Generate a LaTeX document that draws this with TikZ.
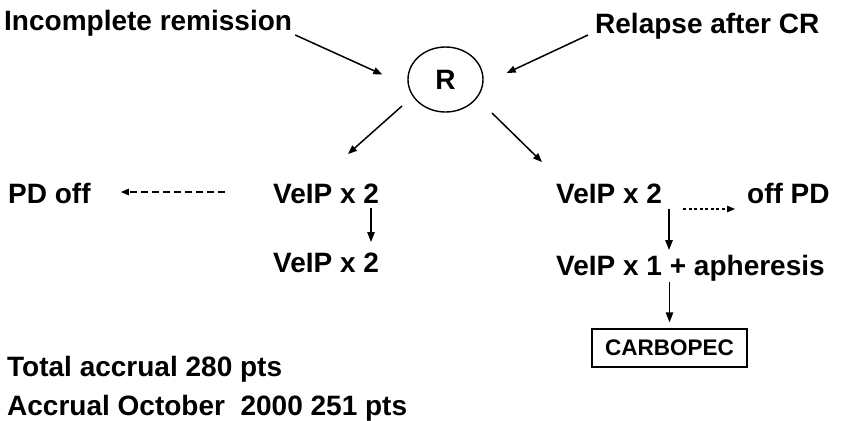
\documentclass[tikz,border=0pt]{standalone}
\usepackage{fontspec}
\setmainfont{Liberation Sans}
\usetikzlibrary{shapes.geometric,arrows.meta}
\begin{document}
\begin{tikzpicture}[x=1bp,y=-1bp,
  txt/.style={font=\fontsize{28bp}{34bp}\selectfont\bfseries, inner sep=0pt, anchor=base west},
  arr/.style={line width=1.5bp, -{Triangle[length=9bp,width=7bp]}},
  varr/.style={line width=1.3bp, -{Triangle[length=10bp,width=7.5bp]}},
  dasharr/.style={line width=1.2bp, dash pattern=on 7bp off 4bp, -{Triangle[length=8bp,width=6.5bp]}},
  dotarr/.style={line width=1.2bp, dash pattern=on 3bp off 2.5bp, -{Triangle[length=8bp,width=6.5bp]}},
  rnode/.style={draw, ellipse, line width=1.4bp, minimum width=75bp, minimum height=65bp, inner sep=0pt,
    font=\fontsize{28bp}{34bp}\selectfont\bfseries},
  boxnode/.style={draw, line width=1.3bp, minimum width=155bp, minimum height=38bp, inner sep=0pt,
    font=\fontsize{22.5bp}{27bp}\selectfont\bfseries}
]
\useasboundingbox (0,0) rectangle (848,420);

\node[txt] (inc) at (4,30) {Incomplete remission};
\node[txt] (rel) at (595,33) {Relapse after CR};
\node[rnode] (R) at (445.5,79.5) {R};

\node[txt] (pdoff) at (8,203) {PD off};
\node[txt] (veipL) at (273,203) {VeIP x 2};
\node[txt] (veipR) at (556,203) {VeIP x 2};
\node[txt] (offpd) at (747,203) {off PD};

\node[txt] (veipL2) at (273,272) {VeIP x 2};
\node[txt] (apher) at (556,275) {VeIP x 1 + apheresis};

\node[boxnode] (carbo) at (669.5,348) {CARBOPEC};

\node[txt] (tot) at (7,376) {Total accrual 280 pts};
\node[txt] (acc) at (7,415) {Accrual October\ \ 2000 251 pts};

% arrows into R
\draw[arr] ([shift={(3,5)}]inc.base east) -- ([shift={(-25,-5)}]R.west);
\draw[arr] ([shift={(-7,2)}]rel.base west) -- ([shift={(23,-6.5)}]R.east);

% arrows out of R
\draw[arr] ([shift={(-43.5,26.5)}]R.center) -- ([shift={(75,-49)}]veipL.base west);
\draw[arr] ([shift={(46.5,33.5)}]R.center) -- ([shift={(-14,-41)}]veipR.base west);

% side arrows
\draw[dasharr] ([shift={(-48,-11)}]veipL.base west) -- ([shift={(30,-11)}]pdoff.base east);
\draw[dotarr] ([shift={(21,6)}]veipR.base east) -- ([shift={(-12,6)}]offpd.base west);

% vertical arrows
\draw[varr] ([shift={(98,5)}]veipL.base west) -- ([shift={(98,-30)}]veipL2.base west);
\draw[varr] ([shift={(113,6)}]veipR.base west) -- ([shift={(113,-25)}]apher.base west);
\draw[varr] ([shift={(113.5,7)}]apher.base west) -- ([shift={(0,-6)}]carbo.north);
\end{tikzpicture}
\end{document}
